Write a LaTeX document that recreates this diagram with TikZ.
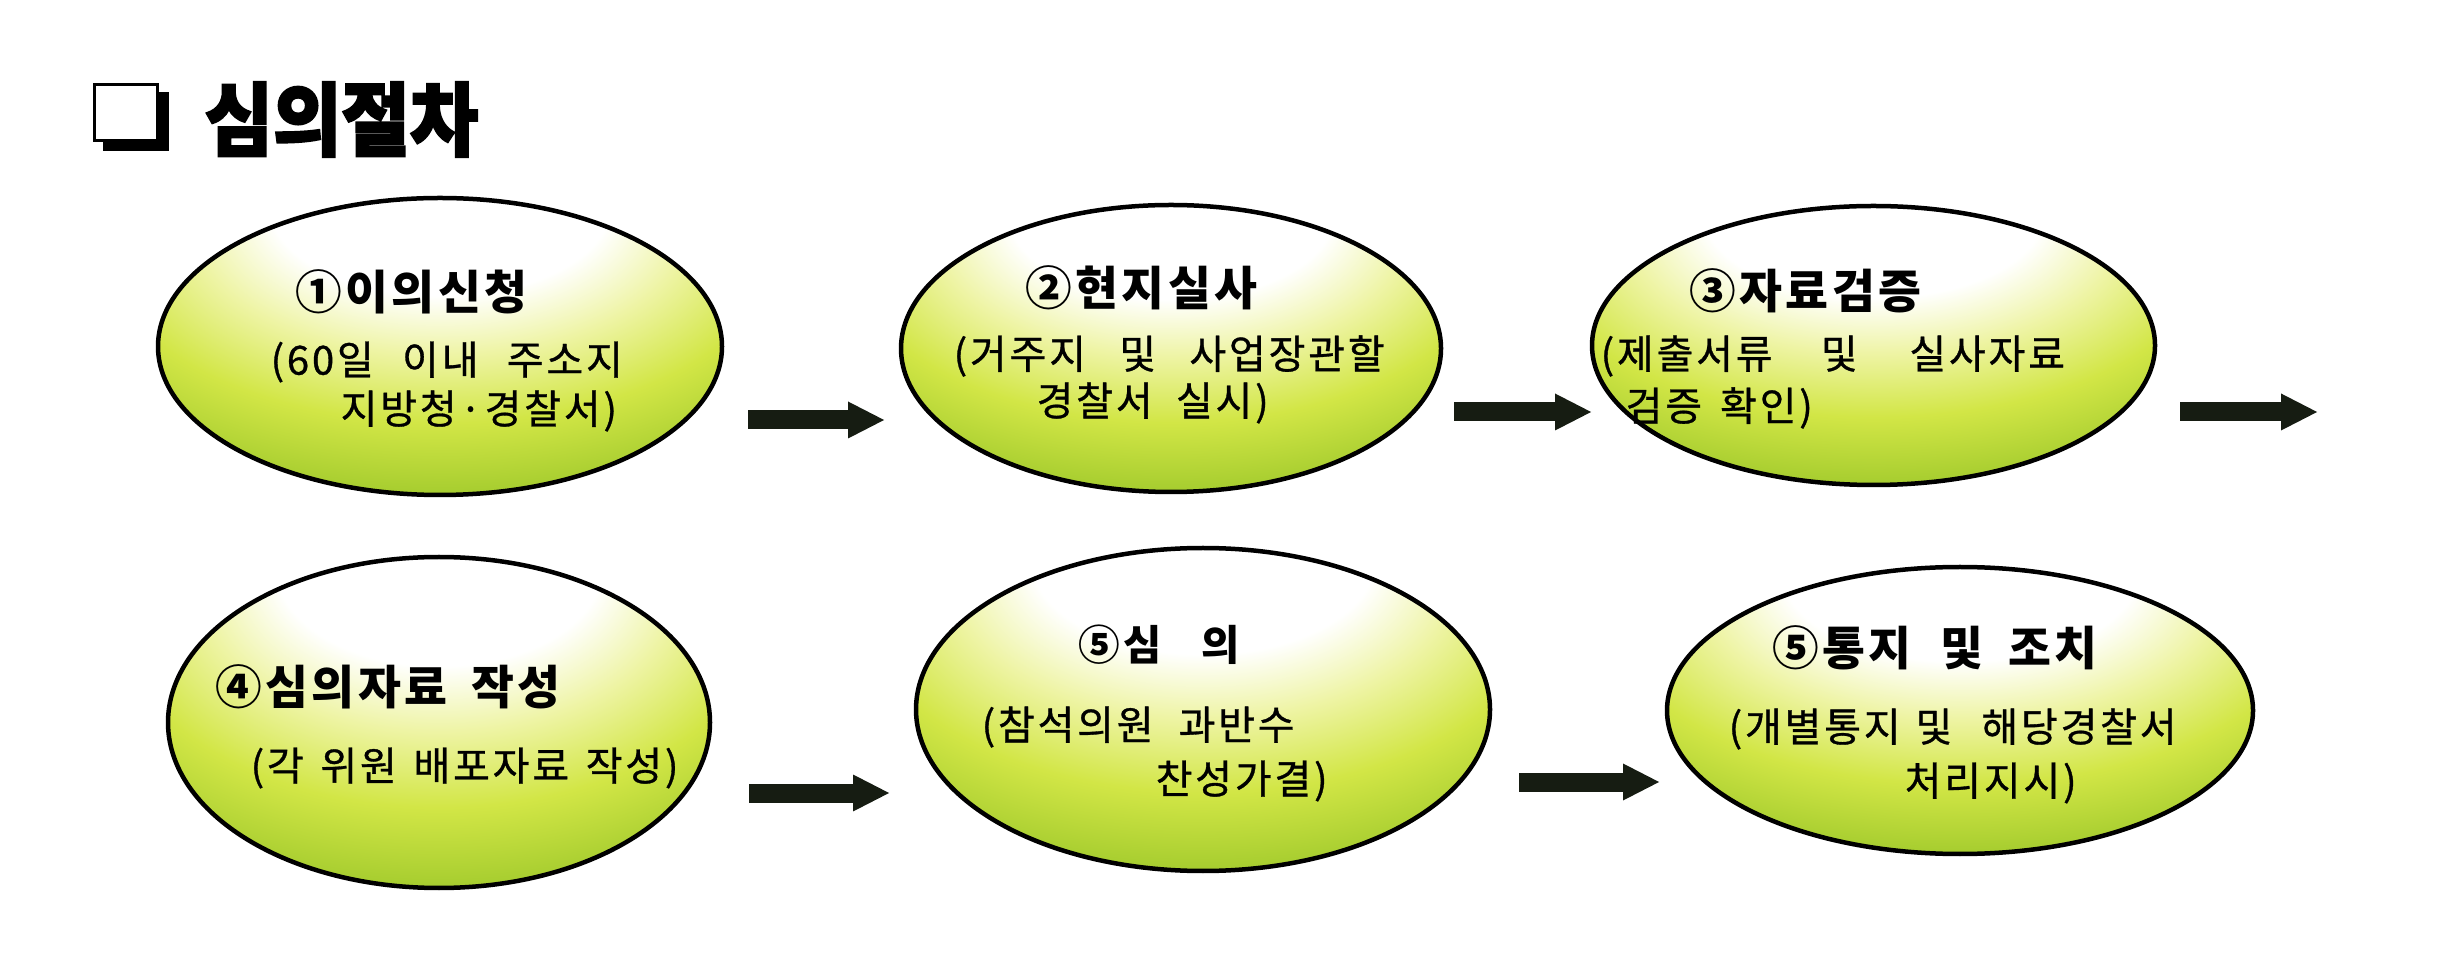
\documentclass[tikz,border=0pt]{standalone}
\usepackage{fontspec}
\usepackage{graphicx}
\newfontfamily\krsub[LetterSpace=7,FakeBold=0.8]{Noto Sans CJK KR}
\newfontfamily\krhead[LetterSpace=7]{Noto Sans CJK KR}
\newfontfamily\krtitle[BoldFeatures={FakeBold=2.5}]{Noto Sans CJK KR}
\usetikzlibrary{shapes.geometric,arrows.meta}
\definecolor{eggA}{HTML}{4A8A1A}
\definecolor{eggB}{HTML}{72AC24}
\definecolor{eggC}{HTML}{A8CE30}
\definecolor{eggD}{HTML}{D2E646}
\definecolor{eggE}{HTML}{EEF4A4}
\definecolor{arrowcol}{HTML}{161C12}
\pgfdeclareradialshading{eggshade}{\pgfpoint{0bp}{30bp}}{color(0bp)=(white); color(15bp)=(white); color(22bp)=(eggE); color(30bp)=(eggD); color(38bp)=(eggC); color(46bp)=(eggB); color(55bp)=(eggA); color(70bp)=(eggA)}
\begin{document}
\begin{tikzpicture}[x=0.3pt,y=-0.3pt,
  eggnode/.style={ellipse, draw=black, line width=1.35pt, shade, shading=eggshade, inner sep=0pt},
  headtxt/.style={anchor=west, inner sep=0pt, font=\krhead\bfseries\fontsize{14pt}{16pt}\selectfont},
  subtxt/.style={anchor=west, inner sep=0pt, font=\krsub\fontsize{12pt}{14pt}\selectfont},
  titletxt/.style={anchor=west, inner sep=0pt, font=\krtitle\bfseries\fontsize{24pt}{28pt}\selectfont},
  flowarrow/.style={draw=arrowcol, line width=5.7pt, -{Triangle[length=11.1pt,width=10.2pt]}},
]
\fill[white] (0,0) rectangle (2448,963);
\useasboundingbox (0,0) rectangle (2448,963);

% title
\node[fill=black, minimum width=19.8pt, minimum height=17.7pt, inner sep=0pt] (boxshadow) at (136,121.5) {};
\node[fill=white, draw=black, line width=0.9pt, minimum width=18.9pt, minimum height=16.8pt, inner sep=0pt] (box) at (126,112.5) {};
\node[titletxt] (title) at (204,119.5) {\scalebox{0.93}[1]{심의절차}};

% ellipses
\node[eggnode, minimum width=169.2pt, minimum height=89.1pt] (e1) at (440,346.5) {};
\node[eggnode, minimum width=162pt, minimum height=86.1pt] (e2) at (1171,348.5) {};
\node[eggnode, minimum width=168.9pt, minimum height=83.7pt] (e3) at (1873.5,345.5) {};
\node[eggnode, minimum width=162.6pt, minimum height=99.3pt] (e4) at (439,722.5) {};
\node[eggnode, minimum width=172.2pt, minimum height=96.9pt] (e5) at (1203,709.5) {};
\node[eggnode, minimum width=175.8pt, minimum height=86.1pt] (e6) at (1960,710.5) {};

% texts
\node[headtxt] (h1) at (295,292) {①이의신청};
\node[subtxt] (s1a) at (270,362) {(60일\hspace{8.5pt}이내\hspace{8.5pt}주소지};
\node[subtxt] (s1b) at (340,411) {지방청·경찰서)};

\node[headtxt] (h2) at (1025,288) {②현지실사};
\node[subtxt] (s2a) at (953,356) {(거주지\hspace{10pt}및\hspace{10pt}사업장관할};
\node[subtxt] (s2b) at (1036,403) {경찰서\hspace{7pt}실시)};

\node[headtxt] (h3) at (1689,291) {③자료검증};
\node[subtxt] (s3a) at (1600,356) {(제출서류\hspace{14.5pt}및\hspace{15.5pt}실사자료};
\node[subtxt] (s3b) at (1625,408) {검증\hspace{5.4pt}확인)};

\node[headtxt] (h4) at (215,687) {④심의자료\hspace{7.2pt}작성};
\node[subtxt] (s4a) at (250,768) {(각\hspace{5pt}위원\hspace{5pt}배포자료\hspace{5pt}작성)};

\node[headtxt, font=\krhead\bfseries\fontsize{12.5pt}{14pt}\selectfont] (h5) at (1078,645) {⑤심\hspace{12pt}의};
\node[subtxt] (s5a) at (981,727) {(참석의원\hspace{7.5pt}과반수};
\node[subtxt] (s5b) at (1155,781) {찬성가결)};

\node[headtxt] (h6) at (1772,648) {⑤통지\hspace{8.7pt}및\hspace{7.5pt}조치};
\node[subtxt] (s6a) at (1728,729) {(개별통지\hspace{4.5pt}및\hspace{8.7pt}해당경찰서};
\node[subtxt] (s6b) at (1904,783) {처리지시)};

% arrows
\coordinate (a1s) at (748,420);  \coordinate (a1e) at (885,420);
\coordinate (a2s) at (1454,412); \coordinate (a2e) at (1592,412);
\coordinate (a3s) at (2180,412); \coordinate (a3e) at (2318,412);
\coordinate (a4s) at (749,793);  \coordinate (a4e) at (890,793);
\coordinate (a5s) at (1519,782); \coordinate (a5e) at (1660,782);
\draw[flowarrow] (a1s) -- (a1e);
\draw[flowarrow] (a2s) -- (a2e);
\draw[flowarrow] (a3s) -- (a3e);
\draw[flowarrow] (a4s) -- (a4e);
\draw[flowarrow] (a5s) -- (a5e);
\end{tikzpicture}
\end{document}
